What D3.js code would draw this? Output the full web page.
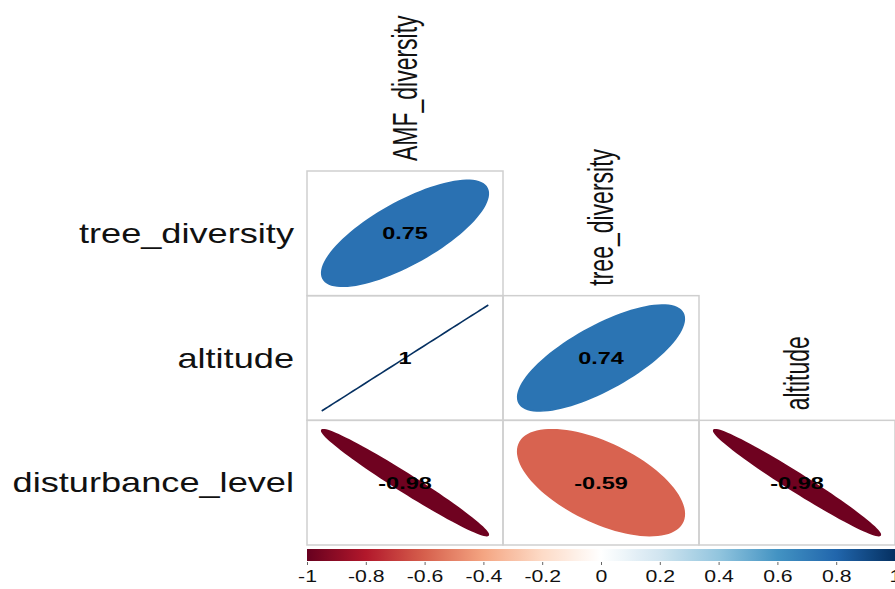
<!DOCTYPE html>
<html>
<head>
<meta charset="utf-8">
<script src="https://cdn.jsdelivr.net/npm/d3@7"></script>
<style>
  html, body { margin: 0; padding: 0; background: #fff; }
  svg { display: block; font-family: "Liberation Sans", Arial, Helvetica, sans-serif; }
</style>
</head>
<body>
<svg id="chart" width="895" height="589"></svg>
<script>
// Variables of the lower-triangle correlation matrix
const colVars = ["AMF_diversity", "tree_diversity", "altitude"];
const rowVars = ["tree_diversity", "altitude", "disturbance_level"];

// Correlation coefficients, one array per row (lower triangle only)
const rowTreeDiversity = [0.75];
const rowAltitude = [1, 0.74];
const rowDisturbance = [-0.98, -0.59, -0.98];
const corrRows = [rowTreeDiversity, rowAltitude, rowDisturbance];

// Colour legend ticks
const legendTicks = [-1, -0.8, -0.6, -0.4, -0.2, 0, 0.2, 0.4, 0.6, 0.8, 1];

// Diverging red-blue palette
const palette = ["#67001F", "#B2182B", "#D6604D", "#F4A582", "#FDDBC7", "#FFFFFF",
                 "#D1E5F0", "#92C5DE", "#4393C3", "#2166AC", "#053061"];

const svg = d3.select("#chart");

const x = d3.scaleBand().domain(colVars).range([307, 895]);
const y = d3.scaleBand().domain(rowVars).range([171, 545]);
const color = d3.scaleLinear()
  .domain(palette.map((_, i) => -1 + i * 2 / (palette.length - 1)))
  .range(palette);

// Flatten the lower triangle into cells
const cells = [];
corrRows.forEach((vals, i) => {
  vals.forEach((r, j) => cells.push({ row: rowVars[i], col: colVars[j], r }));
});

// Grid
svg.append("g").selectAll("rect").data(cells).join("rect")
  .attr("x", d => x(d.col))
  .attr("y", d => y(d.row))
  .attr("width", x.bandwidth())
  .attr("height", y.bandwidth())
  .attr("fill", "none")
  .attr("stroke", "#cfcfcf")
  .attr("stroke-width", 1.5);

// Ellipse outline for a correlation coefficient, in cell-relative units
function ellipsePoints(r, n = 99) {
  const a = Math.acos(r) / 2;
  return d3.range(n).map(i => {
    const k = i / (n - 1) * 2 * Math.PI;
    return [0.85 * Math.cos(k + a) / 2, 0.85 * Math.cos(k - a) / 2];
  });
}

const line = d3.line();
svg.append("g").selectAll("path").data(cells).join("path")
  .attr("d", d => {
    const cx = x(d.col) + x.bandwidth() / 2;
    const cy = y(d.row) + y.bandwidth() / 2;
    return line(ellipsePoints(d.r).map(([u, v]) => [cx + u * x.bandwidth(), cy - v * y.bandwidth()])) + "Z";
  })
  .attr("fill", d => color(d.r))
  .attr("stroke", d => color(d.r))
  .attr("stroke-width", 1.6);

// Coefficient labels
const fmt = v => String(+v.toFixed(2));
svg.append("g").selectAll("text").data(cells).join("text")
  .attr("transform", d => `translate(${x(d.col) + x.bandwidth() / 2},${y(d.row) + y.bandwidth() / 2}) scale(1.38,1)`)
  .attr("text-anchor", "middle")
  .attr("dy", "0.36em")
  .attr("font-size", 17)
  .attr("font-weight", "bold")
  .attr("fill", "#000")
  .text(d => fmt(d.r));

// Row labels
svg.append("g").selectAll("text").data(rowVars).join("text")
  .attr("transform", d => `translate(294,${y(d) + y.bandwidth() / 2}) scale(1.34,1)`)
  .attr("text-anchor", "end")
  .attr("dy", "0.36em")
  .attr("font-size", 27)
  .attr("fill", "#111")
  .text(d => d);

// Column labels, rotated above the diagonal cells
svg.append("g").selectAll("text").data(colVars).join("text")
  .attr("transform", (d, i) => `translate(${x(d) + x.bandwidth() / 2},${y(rowVars[i]) - 10}) scale(1.5,1) rotate(-90)`)
  .attr("text-anchor", "start")
  .attr("dy", "0.36em")
  .attr("font-size", 23)
  .attr("fill", "#111")
  .text(d => d);

// Colour legend
const lx = d3.scaleLinear().domain([-1, 1]).range([307, 895]);
const grad = svg.append("defs").append("linearGradient").attr("id", "corrGrad");
d3.range(0, 1.0001, 0.02).forEach(t => {
  grad.append("stop").attr("offset", t).attr("stop-color", color(-1 + 2 * t));
});
svg.append("rect")
  .attr("x", lx(-1)).attr("y", 549)
  .attr("width", lx(1) - lx(-1)).attr("height", 12)
  .attr("fill", "url(#corrGrad)");

const axis = svg.append("g")
  .attr("transform", "translate(0,562)")
  .call(d3.axisBottom(lx).tickValues(legendTicks).tickSize(3).tickFormat(d => fmt(d)));
axis.select(".domain").remove();
axis.selectAll(".tick line").attr("stroke", "#666");
axis.selectAll(".tick text")
  .attr("font-size", 17)
  .attr("font-family", "Liberation Sans, Arial, sans-serif")
  .attr("fill", "#111")
  .attr("y", 8)
  .attr("transform", "scale(1.25,1)");
</script>
</body>
</html>
